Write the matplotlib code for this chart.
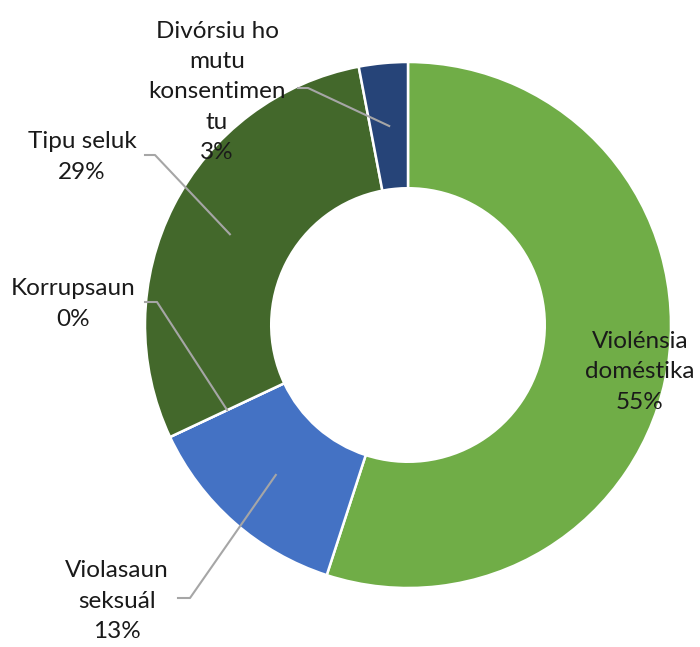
import numpy as np
import matplotlib.pyplot as plt

# data (percent of cases)
categories = ["Violénsia\ndoméstika", "Violasaun\nseksuál", "Korrupsaun",
              "Tipu seluk", "Divórsiu ho\nmutu\nkonsentimen\ntu"]
shares = [55, 13, 0, 29, 3]
colors = ["#70AD47", "#4472C4", "#A5A5A5", "#43682B", "#264478"]

# layout (pixels in the 700x647 canvas)
W, H = 700, 647
cx, cy, R = 408, 325, 263
label_pos = [(640, 372), (117, 601), (73, 304), (82, 157), (217, 92)]
# leader line: label-side start, elbow (None = no line)
leaders = [None, ((178, 598), (190, 598)), ((145, 302), (157, 302)),
           ((145, 155), (155, 155)), ((298, 88), (308, 88))]


def px(p):
    return ((p[0] - cx) / R, (cy - p[1]) / R)


plt.rcParams['font.family'] = ['Lato', 'DejaVu Sans']

fig = plt.figure(figsize=(W / 100, H / 100), dpi=100)
ax = fig.add_axes([0, 0, 1, 1])

wedges, _ = ax.pie(shares, colors=colors, startangle=90, counterclock=False,
                   radius=1, wedgeprops=dict(width=0.48, edgecolor="white", linewidth=1.8))

ax.set_xlim(-cx / R, (W - cx) / R)
ax.set_ylim(-(H - cy) / R, cy / R)

total = sum(shares)
for i, w in enumerate(wedges):
    pct = round(shares[i] / total * 100)
    x, y = px(label_pos[i])
    ax.text(x, y, f"{categories[i]}\n{pct}%", ha="center", va="center",
            fontsize=17.5, linespacing=1.55, color="#1a1a1a", zorder=5)
    if leaders[i] is None:
        continue
    ang = np.deg2rad((w.theta1 + w.theta2) / 2)
    r_mid = 0.76
    end = (r_mid * np.cos(ang), r_mid * np.sin(ang))
    p0 = px(leaders[i][0])
    p1 = px(leaders[i][1])
    ax.plot([p0[0], p1[0], end[0]], [p0[1], p1[1], end[1]],
            color="#A6A6A6", lw=1.5, zorder=4)

fig.savefig("out.png", dpi=100)
